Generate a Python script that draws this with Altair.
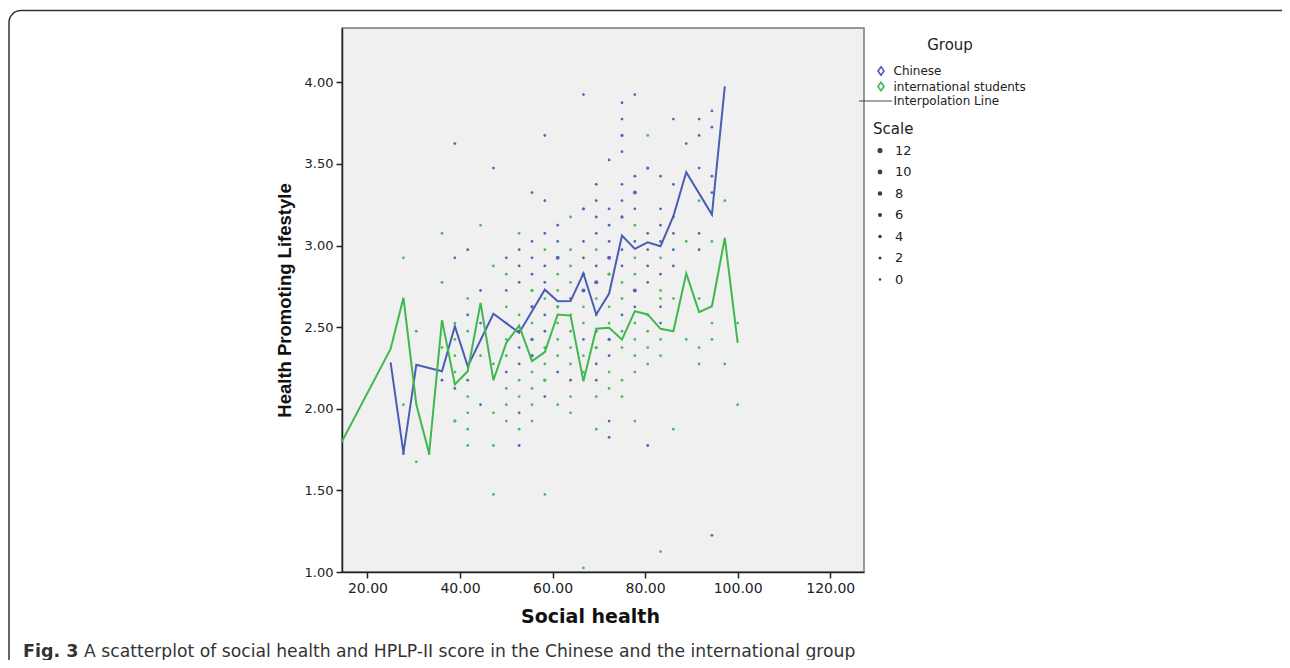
import altair as alt
import pandas as pd

# ---------------- data ----------------
groups = ["Chinese", "international students", "Interpolation Line"]
group_colors = ["#4a5db5", "#3fb84d", "#333333"]
DIAMOND = "M0,-1L0.7,0L0,1L-0.7,0ZM0,-0.72L-0.48,0L0,0.72L0.48,0Z"
group_shapes = [DIAMOND, DIAMOND, "M-4.4,0L2.2,0"]

x_ticks = [20, 40, 60, 80, 100, 120]
y_ticks = [1.0, 1.5, 2.0, 2.5, 3.0, 3.5, 4.0]
scale_values = [12, 10, 8, 6, 4, 2, 0]

# binned scatter points: (social health, HPLP score, count)
chinese_points = [
    (27.78, 1.725, 1),
    (36.11, 2.175, 1),
    (38.89, 3.625, 1), (38.89, 2.925, 1), (38.89, 2.125, 1),
    (41.67, 2.975, 1), (41.67, 2.575, 1), (41.67, 2.175, 1),
    (44.44, 2.725, 1), (44.44, 2.525, 1), (44.44, 2.025, 1),
    (47.22, 3.475, 1),
    (50.00, 2.925, 1), (50.00, 2.725, 1), (50.00, 2.225, 1),
    (52.78, 2.975, 1), (52.78, 2.875, 1), (52.78, 2.775, 1), (52.78, 2.475, 1),
    (52.78, 2.375, 1), (52.78, 2.275, 1), (52.78, 1.975, 1), (52.78, 1.775, 1),
    (55.56, 3.325, 1), (55.56, 3.025, 1), (55.56, 2.925, 1), (55.56, 2.825, 1),
    (55.56, 2.625, 3), (55.56, 2.425, 3), (55.56, 2.325, 3),
    (58.33, 3.675, 1), (58.33, 3.275, 1), (58.33, 3.075, 1), (58.33, 2.875, 1),
    (58.33, 2.775, 1), (58.33, 2.575, 1), (58.33, 2.475, 1), (58.33, 2.075, 1),
    (61.11, 3.125, 1), (61.11, 3.025, 1), (61.11, 2.925, 6), (61.11, 2.225, 1),
    (63.89, 2.675, 1), (63.89, 2.175, 1),
    (66.67, 3.925, 1), (66.67, 3.225, 3), (66.67, 3.025, 1), (66.67, 2.925, 1),
    (66.67, 2.825, 3), (66.67, 2.725, 6), (66.67, 2.425, 1),
    (69.44, 3.375, 1), (69.44, 3.275, 1), (69.44, 3.175, 1), (69.44, 3.075, 1),
    (69.44, 2.875, 1), (69.44, 2.775, 6), (69.44, 2.475, 1), (69.44, 2.275, 1),
    (69.44, 2.175, 1),
    (72.22, 3.525, 1), (72.22, 3.225, 1), (72.22, 3.125, 1), (72.22, 3.025, 1),
    (72.22, 2.925, 6), (72.22, 2.425, 3), (72.22, 2.325, 1), (72.22, 1.925, 1),
    (72.22, 1.825, 1),
    (75.00, 3.875, 1), (75.00, 3.775, 1), (75.00, 3.675, 3), (75.00, 3.575, 1),
    (75.00, 3.375, 1), (75.00, 3.275, 1), (75.00, 3.175, 3), (75.00, 2.975, 1),
    (75.00, 2.875, 1), (75.00, 2.575, 1),
    (77.78, 3.925, 1), (77.78, 3.425, 1), (77.78, 3.325, 6), (77.78, 3.225, 1),
    (77.78, 3.025, 1), (77.78, 2.725, 6), (77.78, 2.625, 1),
    (80.56, 3.475, 3), (80.56, 3.075, 1), (80.56, 2.975, 1), (80.56, 2.875, 1),
    (80.56, 2.775, 1), (80.56, 1.775, 1),
    (83.33, 3.425, 1), (83.33, 3.225, 1), (83.33, 3.125, 1), (83.33, 3.025, 1),
    (83.33, 2.825, 1), (83.33, 2.625, 1), (83.33, 2.525, 1),
    (86.11, 3.775, 1), (86.11, 3.375, 1), (86.11, 3.175, 1), (86.11, 3.075, 1),
    (86.11, 2.975, 1), (86.11, 2.875, 1),
    (88.89, 3.625, 1),
    (91.67, 3.775, 1), (91.67, 3.675, 1), (91.67, 3.475, 1), (91.67, 3.075, 1),
    (91.67, 2.975, 1),
    (94.44, 3.825, 1), (94.44, 3.725, 1), (94.44, 3.425, 1), (94.44, 3.325, 1),
    (94.44, 1.225, 1),
]

international_points = [
    (27.78, 2.925, 1), (27.78, 2.025, 1),
    (30.56, 2.475, 1), (30.56, 1.675, 1),
    (33.33, 1.725, 1),
    (36.11, 3.075, 1), (36.11, 2.775, 1), (36.11, 2.525, 1), (36.11, 2.375, 1),
    (38.89, 2.525, 1), (38.89, 2.425, 1), (38.89, 2.325, 1), (38.89, 2.225, 1),
    (38.89, 1.925, 3),
    (41.67, 2.675, 1), (41.67, 2.475, 1), (41.67, 2.075, 1), (41.67, 1.975, 1),
    (41.67, 1.875, 1), (41.67, 1.775, 1),
    (44.44, 3.125, 1), (44.44, 2.325, 1),
    (47.22, 2.875, 1), (47.22, 2.275, 1), (47.22, 1.975, 1), (47.22, 1.775, 1),
    (47.22, 1.475, 1),
    (50.00, 2.825, 1), (50.00, 2.625, 1), (50.00, 2.525, 1), (50.00, 2.425, 1),
    (50.00, 2.325, 1), (50.00, 2.125, 1), (50.00, 2.025, 1), (50.00, 1.925, 1),
    (52.78, 3.075, 1), (52.78, 2.575, 1), (52.78, 2.175, 1), (52.78, 2.075, 1),
    (52.78, 1.875, 1),
    (55.56, 2.725, 3), (55.56, 2.525, 1), (55.56, 2.225, 1), (55.56, 2.125, 1),
    (55.56, 2.025, 1), (55.56, 1.925, 1),
    (58.33, 2.975, 1), (58.33, 2.675, 1), (58.33, 2.375, 1), (58.33, 2.275, 1),
    (58.33, 2.175, 3), (58.33, 1.475, 1),
    (61.11, 2.825, 1), (61.11, 2.725, 1), (61.11, 2.625, 3), (61.11, 2.525, 1),
    (61.11, 2.425, 1), (61.11, 2.325, 1), (61.11, 2.025, 1),
    (63.89, 3.175, 1), (63.89, 2.975, 1), (63.89, 2.875, 1), (63.89, 2.775, 1),
    (63.89, 2.575, 1), (63.89, 2.475, 1), (63.89, 2.375, 1), (63.89, 2.275, 1),
    (63.89, 2.075, 1), (63.89, 1.975, 1),
    (66.67, 2.625, 1), (66.67, 2.525, 1), (66.67, 2.325, 1), (66.67, 2.225, 1),
    (66.67, 1.025, 1),
    (69.44, 2.975, 1), (69.44, 2.675, 1), (69.44, 2.575, 1), (69.44, 2.375, 3),
    (69.44, 2.075, 1), (69.44, 1.875, 1),
    (72.22, 2.825, 3), (72.22, 2.625, 1), (72.22, 2.525, 1), (72.22, 2.225, 1),
    (72.22, 2.125, 1),
    (75.00, 2.775, 1), (75.00, 2.675, 1), (75.00, 2.475, 1), (75.00, 2.375, 1),
    (75.00, 2.175, 1), (75.00, 2.075, 1),
    (77.78, 3.125, 1), (77.78, 2.925, 1), (77.78, 2.825, 1), (77.78, 2.525, 1),
    (77.78, 2.425, 1), (77.78, 2.325, 1), (77.78, 2.225, 1), (77.78, 1.925, 1),
    (80.56, 3.675, 1), (80.56, 2.575, 1), (80.56, 2.475, 1), (80.56, 2.375, 1),
    (80.56, 2.275, 1),
    (83.33, 2.925, 1), (83.33, 2.725, 1), (83.33, 2.675, 1), (83.33, 2.425, 1),
    (83.33, 2.325, 1), (83.33, 1.125, 1),
    (86.11, 2.675, 1), (86.11, 1.875, 1),
    (88.89, 3.025, 1), (88.89, 2.425, 1),
    (91.67, 3.275, 1), (91.67, 2.675, 1), (91.67, 2.375, 1), (91.67, 2.275, 1),
    (94.44, 3.025, 1), (94.44, 2.525, 1), (94.44, 2.425, 1),
    (97.22, 3.275, 1), (97.22, 2.275, 1),
    (100.00, 2.525, 1), (100.00, 2.025, 1),
]

# interpolation lines
chinese_line_x = [25.00, 27.78, 30.56, 36.11, 38.89, 41.67, 47.22, 52.78, 58.33, 61.11,
                  63.89, 66.67, 69.44, 72.22, 75.00, 77.78, 80.56, 83.33, 86.11, 88.89,
                  94.44, 97.22]
chinese_line_y = [2.284, 1.730, 2.270, 2.230, 2.506, 2.260, 2.582, 2.465, 2.730, 2.659,
                  2.660, 2.829, 2.578, 2.706, 3.061, 2.980, 3.020, 2.996, 3.180, 3.449,
                  3.190, 3.975]
international_line_x = [13.89, 25.00, 27.78, 30.56, 33.33, 36.11, 38.89, 41.67, 44.44, 47.22,
                        50.00, 52.78, 55.56, 58.33, 61.11, 63.89, 66.67, 69.44, 72.22, 75.00,
                        77.78, 80.56, 83.33, 86.11, 88.89, 91.67, 94.44, 97.22, 100.00]
international_line_y = [1.767, 2.367, 2.680, 2.026, 1.726, 2.543, 2.149, 2.230, 2.649, 2.175,
                        2.404, 2.510, 2.292, 2.347, 2.578, 2.571, 2.169, 2.490, 2.496, 2.424,
                        2.598, 2.578, 2.490, 2.475, 2.829, 2.592, 2.628, 3.047, 2.404]

caption_bold = "Fig. 3"
caption_rest = ("A scatterplot of social health and HPLP-II score in the Chinese "
                "and the international group")

# ---------------- tables ----------------
pts = pd.DataFrame(
    [(x, y, n, groups[0]) for x, y, n in chinese_points]
    + [(x, y, n, groups[1]) for x, y, n in international_points],
    columns=["x", "y", "n", "group"],
)
lines = pd.concat([
    pd.DataFrame({"x": chinese_line_x, "y": chinese_line_y, "group": groups[0]}),
    pd.DataFrame({"x": international_line_x, "y": international_line_y, "group": groups[1]}),
])
legend_df = pd.DataFrame({"group": groups})

W, H = 522, 544
FONT = "DejaVu Sans"

x_enc = alt.X("x:Q", title="Social health",
              scale=alt.Scale(domain=[14.5, 127.3], nice=False, zero=False),
              axis=alt.Axis(values=x_ticks, format=".2f", titleX=248))
y_enc = alt.Y("y:Q", title="Health Promoting Lifestyle",
              scale=alt.Scale(domain=[1.0, 4.333], nice=False, zero=False),
              axis=alt.Axis(values=y_ticks, format=".2f", titleFont="Liberation Sans",
                            titleFontSize=18.5, titlePadding=10))

group_legend = alt.Legend(
    title="Group", orient="none", legendX=533, legendY=10,
    titleAnchor="middle", titleFontSize=15, titleFontWeight="normal",
    labelFontSize=12, labelOffset=6.5, symbolSize=100,
    symbolStrokeWidth=0.9, symbolFillColor="transparent",
    symbolOpacity=1, titlePadding=12, rowPadding=1.5, padding=0,
)

# layer without marks that only carries the Group legend (outline symbols via stroke)
legend_layer = alt.Chart(legend_df).transform_filter("false").mark_point(
    filled=False, opacity=1, strokeWidth=0.9
).encode(
    stroke=alt.Stroke("group:N", scale=alt.Scale(domain=groups, range=group_colors),
                      legend=group_legend),
    shape=alt.Shape("group:N", scale=alt.Scale(domain=groups, range=group_shapes),
                    legend=group_legend),
)

points = alt.Chart(pts).mark_circle(opacity=0.95, clip=True).encode(
    x=x_enc, y=y_enc,
    fill=alt.Fill("group:N", scale=alt.Scale(domain=groups, range=group_colors),
                  legend=None),
    size=alt.Size("n:Q", scale=alt.Scale(domain=[0, 12], range=[6, 26]),
                  legend=alt.Legend(title="Scale", values=scale_values, orient="none",
                                    legendX=531, legendY=94, symbolType="circle",
                                    symbolFillColor="#333333", symbolStrokeWidth=0,
                                    symbolOffset=0.5, labelOffset=8.5,
                                    titleFontSize=15, titleFontWeight="normal",
                                    labelFontSize=13, titlePadding=7, rowPadding=7.5,
                                    padding=0)),
)

line_layer = alt.Chart(lines).mark_line(strokeWidth=2, clip=True).encode(
    x="x:Q", y="y:Q",
    color=alt.Color("group:N", scale=alt.Scale(domain=groups, range=group_colors),
                    legend=None),
)

frame = alt.Chart(pd.DataFrame({"k": [0]})).mark_rect(
    fillOpacity=0, stroke="#333333", strokeWidth=1.5, cornerRadius=12
).encode(x=alt.value(-333), x2=alt.value(962), y=alt.value(-17.5), y2=alt.value(700))

cap1 = alt.Chart(pd.DataFrame({"t": [caption_bold]})).mark_text(
    align="left", baseline="alphabetic", font=FONT, fontSize=17.5,
    fontWeight="bold", color="#333333"
).encode(x=alt.value(-319), y=alt.value(629), text="t:N")

cap2 = alt.Chart(pd.DataFrame({"t": [caption_rest]})).mark_text(
    align="left", baseline="alphabetic", font=FONT, fontSize=17.2,
    color="#333333"
).encode(x=alt.value(-258), y=alt.value(629), text="t:N")

chart = alt.layer(legend_layer, frame, points, line_layer, cap1, cap2).properties(
    width=W, height=H,
    background="white",
    autosize=alt.AutoSizeParams(type="none"),
    padding={"left": 334, "top": 20, "right": 418, "bottom": 88},
).configure_view(
    fill="#f0f0f0", stroke="#7a7a7a", strokeWidth=1.5
).configure_axis(
    grid=False, domainColor="#222222", domainWidth=1.5, tickColor="#222222",
    tickWidth=1.5, tickSize=6, labelFont=FONT, labelFontSize=13, labelColor="#222222",
    labelPadding=3, titleFont=FONT, titleFontWeight="bold", titleColor="#111111",
    titleFontSize=19,
).configure_axisX(
    labelFontSize=14, titlePadding=12,
).configure_legend(
    labelFont=FONT, titleFont=FONT, labelColor="#222222", titleColor="#222222",
)

chart.save("out.html", embed_options={"renderer": "svg", "actions": False})
